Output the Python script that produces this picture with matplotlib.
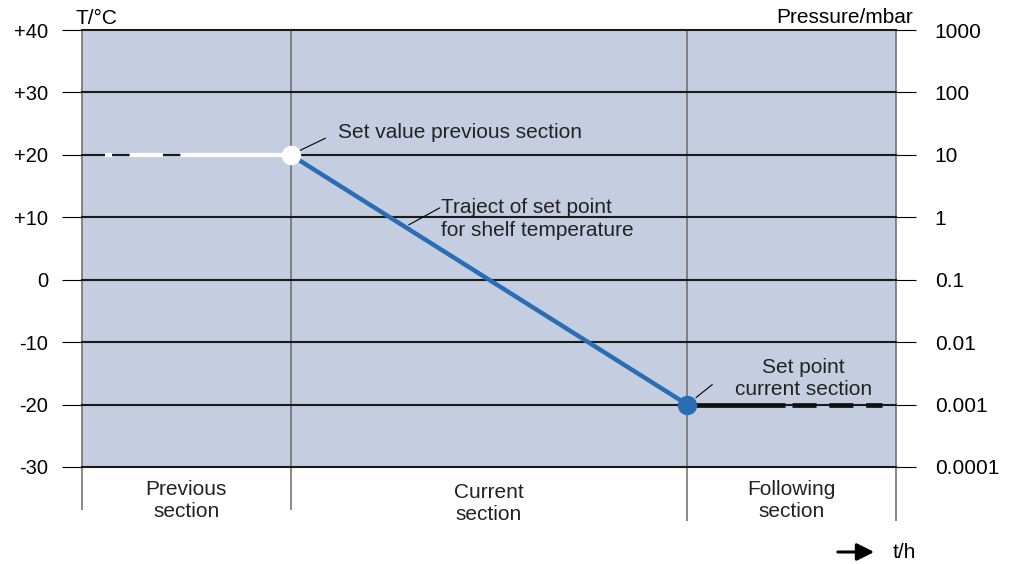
import matplotlib
matplotlib.use("Agg")
import matplotlib.pyplot as plt
import numpy as np

plt.rcParams['font.family'] = ['Liberation Sans', 'DejaVu Sans']

# temperature axis (left) and pressure axis (right, log)
temp_ticks = [40, 30, 20, 10, 0, -10, -20, -30]
temp_labels = ['+40', '+30', '+20', '+10', '0', '-10', '-20', '-30']
pres_ticks = [1000, 100, 10, 1, 0.1, 0.01, 0.001, 0.0001]
pres_labels = ['1000', '100', '10', '1', '0.1', '0.01', '0.001', '0.0001']

# section borders along time axis
section_edges = [0, 1, 2.9, 3.9]
section_names = ['Previous\nsection', 'Current\nsection', 'Following\nsection']

# set point trajectory in the current section
ramp_t = [1, 2.9]
ramp_temp = [20, -20]

# hold at previous set value (dashed part, then solid part)
prev_dash_t = [0.11, 0.53]
prev_solid_t = [0.53, 1]
prev_temp = [20, 20]

# hold at current set point in following section
next_solid_t = [2.9, 3.37]
next_dash_t = [3.40, 3.833]
next_temp = [-20, -20]

bg = '#c5cee0'
blue = '#2a6db2'
txt = '#222222'
fs = 15

fig = plt.figure(figsize=(10.09, 5.64), dpi=100)
ax = fig.add_axes([82 / 1009, 97 / 564, 814 / 1009, 437 / 564])
ax.set_facecolor(bg)
ax.set_xlim(section_edges[0], section_edges[-1])
ax.set_ylim(-30, 40)
for s in ax.spines.values():
    s.set_visible(False)

ax.set_xticks([])
ax.set_yticks(temp_ticks)
ax.set_yticklabels(temp_labels, fontsize=14.5)
ax.tick_params(axis='y', length=14.4, width=0.8, pad=10, color='black')

for v in temp_ticks:
    ax.axhline(v, color='#1a1a1a', lw=1.5, zorder=2, clip_on=False)

# section dividers, running down below the plot
ax.vlines(section_edges[:2], -36.9, 40, color='#6a6a6a', lw=1.1, zorder=1, clip_on=False)
ax.vlines(section_edges[2:], -38.6, 40, color='#6a6a6a', lw=1.1, zorder=1, clip_on=False)

for i, name in enumerate(section_names):
    xc = (section_edges[i] + section_edges[i + 1]) / 2
    yc = -35.8 if i == 1 else -35.3
    ax.text(xc, yc, name, ha='center', va='center', fontsize=fs,
            color=txt, linespacing=1.2, clip_on=False)

# lines
ax.plot(prev_dash_t, prev_temp, color='white', lw=3.0,
        linestyle=(6.3, (8.0, 4.2)), solid_capstyle='butt', zorder=3)
ax.plot(prev_solid_t, prev_temp, color='white', lw=3.0, solid_capstyle='butt', zorder=3)
ax.plot(next_solid_t, next_temp, color='#111111', lw=3.4, solid_capstyle='butt', zorder=3)
ax.plot(next_dash_t, next_temp, color='#111111', lw=3.4,
        linestyle=(0, (5.1, 2.7)), solid_capstyle='butt', zorder=3)
ax.plot(ramp_t, ramp_temp, color=blue, lw=3.2, zorder=4)
ax.plot(ramp_t[0], ramp_temp[0], 'o', color='white', ms=13, zorder=5)
ax.plot(ramp_t[1], ramp_temp[1], 'o', color=blue, ms=13, zorder=5)

# annotations
lead = dict(arrowstyle='-', color='black', lw=0.8, shrinkA=0)
ax.annotate('', xy=(ramp_t[0], ramp_temp[0]), xytext=(25, 12), textcoords='offset points',
            arrowprops=dict(lead, shrinkB=7))
ax.text(1.227, 23.66, 'Set value previous section', ha='left', va='center',
        fontsize=fs, color=txt)

mid_t = 1.548
mid_temp = np.interp(mid_t, ramp_t, ramp_temp)
ax.annotate('', xy=(mid_t, mid_temp), xytext=(25, 13.7), textcoords='offset points',
            arrowprops=dict(lead, shrinkB=3))
ax.text(1.72, 9.72, 'Traject of set point\nfor shelf temperature', ha='left', va='center',
        fontsize=fs, color=txt, linespacing=1.25)

ax.annotate('', xy=(ramp_t[1], ramp_temp[1]), xytext=(18, 14.4), textcoords='offset points',
            arrowprops=dict(lead, shrinkB=8))
ax.text(3.455, -15.83, 'Set point\ncurrent section', ha='center', va='center',
        fontsize=fs, color=txt, linespacing=1.25)

# pressure axis
ax2 = ax.twinx()
ax2.set_yscale('log')
ax2.set_ylim(1e-4, 1e3)
for s in ax2.spines.values():
    s.set_visible(False)
ax2.set_yticks(pres_ticks)
ax2.set_yticklabels(pres_labels, fontsize=fs)
ax2.yaxis.set_minor_locator(matplotlib.ticker.NullLocator())
ax2.tick_params(axis='y', length=14.4, width=0.8, pad=13.5, color='black')

fig.text(75 / 1009, 1 - 24 / 564, 'T/°C', ha='left', va='baseline', fontsize=fs)
fig.text(913 / 1009, 1 - 23 / 564, 'Pressure/mbar', ha='right', va='baseline', fontsize=fs)

# time arrow
fig.add_artist(matplotlib.patches.FancyArrowPatch((835, 12), (877, 12), transform=None,
               arrowstyle='-|>', mutation_scale=26, lw=2.2, color='black'))
fig.text(893 / 1009, 12 / 564, 't/h', ha='left', va='center', fontsize=fs)

fig.savefig('out.png', dpi=100)
